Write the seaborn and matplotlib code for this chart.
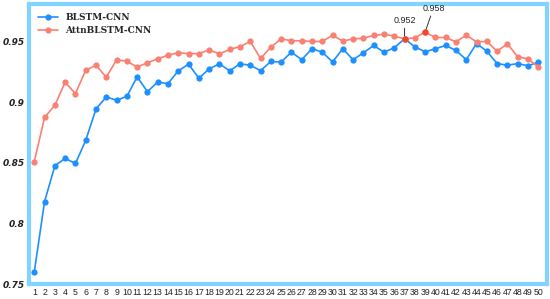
import numpy as np
import pandas as pd
import seaborn as sns
import matplotlib.pyplot as plt

epochs = list(range(1, 51))

blstm_cnn = [0.760, 0.818, 0.8475, 0.8536, 0.8494, 0.8684, 0.8944, 0.9043, 0.9015, 0.9048,
             0.9208, 0.9087, 0.9165, 0.9153, 0.9258, 0.9313, 0.9197, 0.9274, 0.9316, 0.9258,
             0.9316, 0.9304, 0.926, 0.9335, 0.933, 0.9412, 0.935, 0.944, 0.9412, 0.9332,
             0.944, 0.9349, 0.9407, 0.9467, 0.9412, 0.9448, 0.9522, 0.9456, 0.9415, 0.944,
             0.9467, 0.9426, 0.935, 0.9483, 0.942, 0.9318, 0.9304, 0.9318, 0.930, 0.9329]

attn_blstm_cnn = [0.851, 0.8874, 0.8974, 0.9164, 0.907, 0.9263, 0.9304, 0.9205, 0.9349, 0.9337,
                  0.929, 0.9324, 0.9357, 0.9387, 0.9407, 0.940, 0.940, 0.943, 0.9398, 0.9434,
                  0.9458, 0.950, 0.936, 0.9453, 0.9522, 0.9506, 0.9506, 0.950, 0.950, 0.9552,
                  0.9503, 0.9522, 0.9527, 0.955, 0.956, 0.9544, 0.9522, 0.953, 0.9577, 0.9533,
                  0.9533, 0.9497, 0.9552, 0.9497, 0.950, 0.942, 0.9481, 0.9374, 0.9357, 0.929]

yticks = [0.75, 0.8, 0.85, 0.9, 0.95]
ytick_labels = ["0.75", "0.8", "0.85", "0.9", "0.95"]

# points that carry a value label: (epoch, text)
notes = [(37, "0.952"), (39, "0.958")]

sns.set_style("white")
fig = plt.figure(figsize=(5.5, 2.99), dpi=100)
ax = fig.add_axes([0.053, 0.05, 0.9415, 0.937])

sns.lineplot(x=epochs, y=blstm_cnn, ax=ax, color="#1e8fff", marker="o", markersize=4.5,
             markeredgewidth=0, linewidth=1.2, label="BLSTM-CNN")
sns.lineplot(x=epochs, y=attn_blstm_cnn, ax=ax, color="#fa8072", marker="o", markersize=4.5,
             markeredgewidth=0, linewidth=1.2, label="AttnBLSTM-CNN")

offsets = {37: (0, 10), 39: (6, 14)}
for ep, txt in notes:
    val = attn_blstm_cnn[ep - 1]
    ax.plot(ep, val, "o", color="#f4462a", markersize=4.5, markeredgewidth=0, zorder=5)
    ax.annotate(txt, (ep, val), xytext=offsets[ep], textcoords="offset points",
                ha="center", va="bottom", fontsize=6.5, family="Liberation Sans",
                arrowprops=dict(arrowstyle="-", color="#333333", lw=0.7, shrinkA=0, shrinkB=2))

ax.set_xlim(0.5, 50.85)
ax.set_ylim(0.75, 0.981)
ax.set_xticks(epochs)
ax.set_xticklabels([str(e) for e in epochs], fontsize=6.3, family="Liberation Sans",
                   color="#222222")
ax.set_yticks(yticks)
ax.set_yticklabels(ytick_labels, fontsize=6.5, fontweight="bold", fontstyle="italic",
                   family="DejaVu Sans", color="#222222")
ax.tick_params(axis="x", length=0, pad=3)
ax.tick_params(axis="y", length=0, pad=3)

for sp in ax.spines.values():
    sp.set_color("#80d4ff")
    sp.set_linewidth(3)

leg = ax.legend(loc="upper left", frameon=False, bbox_to_anchor=(0.0, 1.0),
                prop={"family": "DejaVu Serif", "weight": "bold", "size": 6.5},
                handlelength=2.2, labelspacing=0.5, borderaxespad=0.6)

fig.savefig("out.png", dpi=100)
